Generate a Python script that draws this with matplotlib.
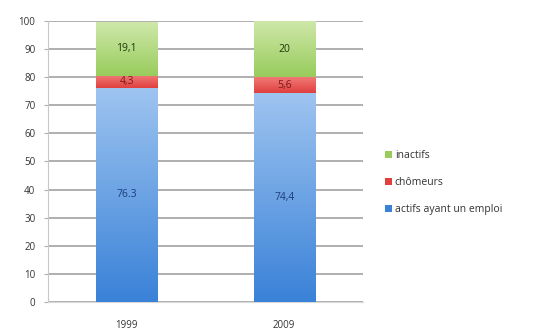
import matplotlib.pyplot as plt
import numpy as np
from matplotlib.colors import LinearSegmentedColormap

# Répartition de la population active (%)
annees = ['1999', '2009']
actifs_emploi = [76.3, 74.4]
chomeurs = [4.3, 5.6]
inactifs = [19.1, 20]
etiq_actifs = ['76.3', '74,4']
etiq_chomeurs = ['4,3', '5,6']
etiq_inactifs = ['19,1', '20']

series = [
    ('actifs ayant un emploi', actifs_emploi, etiq_actifs, ('#3a82d8', '#9ec4f0'), '#1f3c7a'),
    ('chômeurs', chomeurs, etiq_chomeurs, ('#e0403e', '#f07a76'), '#7a1a1a'),
    ('inactifs', inactifs, etiq_inactifs, ('#98cc5c', '#cfe8aa'), '#1c3a0c'),
]

plt.rcParams['font.family'] = ['Open Sans', 'DejaVu Sans']
fig = plt.figure(figsize=(5.45, 3.35), dpi=100)
ax = fig.add_axes([0.088, 0.099, 0.578, 0.838])

x = np.arange(len(annees))
w = 0.39
bas = np.zeros(len(annees))
poignees = []
for nom, vals, etiqs, (c_bas, c_haut), c_txt in series:
    vals = np.array(vals, dtype=float)
    barres = ax.bar(x, vals, width=w, bottom=bas, color=c_bas, zorder=2, linewidth=0)
    cmap = LinearSegmentedColormap.from_list(nom, [c_bas, c_haut])
    grad = np.linspace(0, 1, 100).reshape(-1, 1)
    for b in barres:
        x0, y0 = b.get_x(), b.get_y()
        im = ax.imshow(grad, cmap=cmap, origin='lower', aspect='auto', zorder=3,
                       extent=[x0, x0 + b.get_width(), y0, y0 + b.get_height()])
        im.set_clip_path(b)
    for xi, yb, v, t in zip(x, bas, vals, etiqs):
        ax.text(xi, yb + v / 2, t, ha='center', va='center', fontsize=7.5,
                color=c_txt, zorder=4)
    poignees.append((barres, nom))
    bas += vals

ax.set_xlim(-0.5, 1.5)
ax.set_ylim(0, 100)
ax.set_yticks(np.arange(0, 101, 10))
ax.set_xticks(x)
ax.set_xticklabels(annees)
ax.tick_params(axis='y', length=3, color='#b0b0b0', labelsize=7, pad=6, labelcolor='#333333')
ax.tick_params(axis='x', length=0, labelsize=7, pad=13, labelcolor='#333333')
ax.yaxis.grid(True, color='#9a9a9a', linewidth=1.1, zorder=0)
ax.set_axisbelow(True)
for s in ['top', 'right']:
    ax.spines[s].set_visible(False)
ax.spines['left'].set_color('#c8c8c8')
ax.spines['bottom'].set_color('#d8d8d8')

leg = fig.legend([p[0] for p in poignees[::-1]], [p[1] for p in poignees[::-1]],
                 loc='upper left', bbox_to_anchor=(0.69, 0.58), frameon=False,
                 fontsize=7.5, handlelength=0.6, handleheight=0.6, handletextpad=0.3,
                 labelspacing=1.55, labelcolor='#333333')

fig.savefig('out.png', dpi=100)
